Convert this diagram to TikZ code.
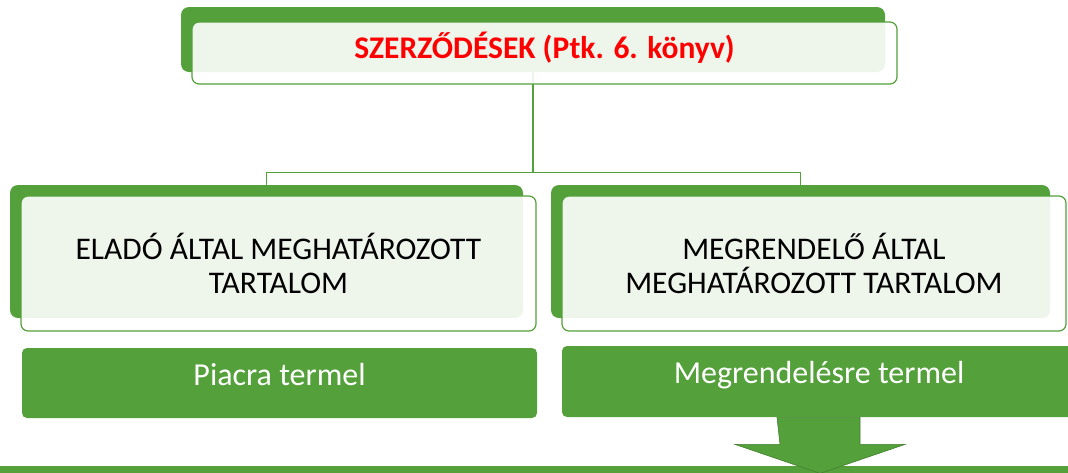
\documentclass[tikz,border=0pt]{standalone}
\usepackage{fontspec}
\setmainfont{Carlito}
\definecolor{leafgreen}{RGB}{84,160,58}

\begin{document}
\begin{tikzpicture}[x=1pt,y=-1pt,thick,
  back box/.style={rectangle,rounded corners=8pt,fill=leafgreen,inner sep=0pt},
  front box/.style={rectangle,rounded corners=7pt,draw=leafgreen,line width=1.2pt,fill=white,fill opacity=0.9,text opacity=1,align=center,inner sep=0pt,font=\fontsize{31.5}{34}\selectfont},
  low box/.style={rectangle,rounded corners=5pt,fill=leafgreen,text=white,inner sep=0pt,font=\fontsize{32}{38}\selectfont,text height=20pt,text depth=16pt},
  link/.style={draw=leafgreen,line width=1.5pt}]

            \clip (0,0) rectangle (1068,472);

            \node[back box, minimum width=704pt, minimum height=65pt] (topback) at (533,39.5) {};
            \node[back box, minimum width=513pt, minimum height=133pt] (leftback) at (266.5,251.5) {};
            \node[back box, minimum width=499pt, minimum height=133pt] (rightback) at (800.5,251.5) {};

            \draw[link] (topback.south) -- ++(0,100) coordinate (fork);
            \draw[link] (fork) -| (leftback.north);
            \draw[link] (fork) -| (rightback.north);

            \node[front box, minimum width=705pt, minimum height=62pt, text=red, font=\bfseries\fontsize{31.5}{38}\selectfont, text height=22pt, text depth=11pt] (top) at (544.5,53) {SZERZŐDÉSEK (Ptk. 6. könyv)};
            \node[front box, minimum width=515pt, minimum height=135pt] (seller) at (278.5,263.5) {ELADÓ ÁLTAL MEGHATÁROZOTT\\TARTALOM};
            \node[front box, minimum width=504pt, minimum height=135pt] (buyer) at (814,263.5) {MEGRENDELŐ ÁLTAL\\MEGHATÁROZOTT TARTALOM};

            \node[low box, minimum width=515pt, minimum height=70pt] (market) at (279.5,383) {Piacra termel};
            \node[low box, minimum width=514pt, minimum height=71pt] (order) at (819,381.5) {Megrendelésre termel};

            \fill[leafgreen] (0,466) rectangle (1068,480);
            \filldraw[fill=leafgreen, draw=leafgreen!80!black, line width=0.6pt] ([xshift=-42pt]order.south) -- ++(83,0) -- ++(0,27) -- ++(45,0) -- ++(-85,29) -- ++(-85,-29) -- ++(45,0) -- cycle;

            ;
        \end{tikzpicture}
\end{document}
